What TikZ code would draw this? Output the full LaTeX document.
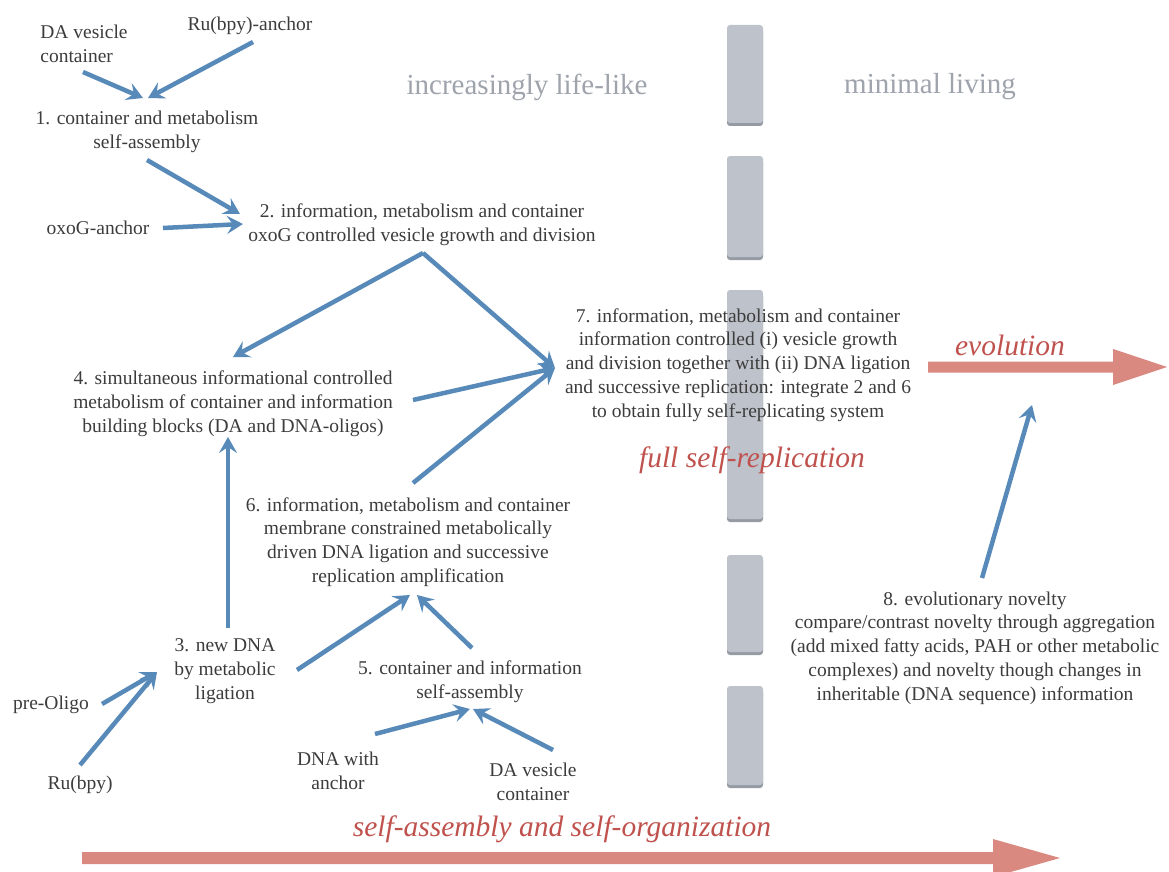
\documentclass[tikz,border=0pt]{standalone}
\usepackage{fontspec}
\setmainfont{LiberationSerif}[Extension=.ttf, UprightFont=*-Regular, ItalicFont=*-Italic, BoldFont=*-Bold, BoldItalicFont=*-BoldItalic]
\usetikzlibrary{arrows.meta}
\definecolor{txt}{RGB}{60,60,60}
\definecolor{bluearr}{RGB}{88,138,185}
\definecolor{redarr}{RGB}{217,137,128}
\definecolor{redtext}{RGB}{192,82,78}
\definecolor{graytitle}{RGB}{158,163,172}
\definecolor{barfill}{RGB}{190,194,202}
\definecolor{barshade}{RGB}{150,154,162}
\tikzset{
  lbl/.style={align=center, inner sep=0pt, text=txt, font=\fontsize{19.5}{23.8}\selectfont},
  titletxt/.style={inner sep=0pt, text=graytitle, font=\fontsize{29}{34}\selectfont},
  redtxt/.style={inner sep=0pt, text=redtext, font=\fontsize{29.5}{34}\selectfont\itshape},
  barrow/.style={draw=bluearr, line width=4.5pt, -{Stealth[length=16pt, width=18pt, inset=6pt]}},
  redshape/.style={fill=redarr},
  barseg/.style={fill=barfill, rounded corners=3pt},
  barshadow/.style={fill=barshade, rounded corners=3pt}
}
\begin{document}
\begin{tikzpicture}[x=1pt,y=-1pt]
\useasboundingbox (0,0) rectangle (1169,872);
\fill[white] (0,0) rectangle (1169,872);

% dashed gray divider
\foreach \a/\b in {25/126,156/260,290/522,555/655,686/788}{
  \fill[barshadow] (727,\a+3) rectangle (763,\b);
  \fill[barseg] (727,\a) rectangle (763,\b-3);
}

% red arrows
\coordinate (evS) at (928,367);
\coordinate (evE) at (1167,367);
\fill[redshape] (928,361.5) -- (1113,361.5) -- (1113,349) -- (evE) -- (1113,385) -- (1113,372.5) -- (928,372.5) -- cycle;
\coordinate (saS) at (82,858);
\coordinate (saE) at (1060,858);
\fill[redshape] (82,852) -- (993,852) -- (993,839) -- (saE) -- (993,877) -- (993,864) -- (82,864) -- cycle;

% texts
\node[lbl, align=left] (daves1) at (84,43.5) {DA vesicle\\container};
\node[lbl] (rua) at (250,26) {Ru(bpy)-anchor};
\node[lbl] (n1) at (147,131.5) {1. container and metabolism\\self-assembly};
\node[lbl] (oxo) at (98,228) {oxoG-anchor};
\node[lbl] (n2) at (422,225) {2. information, metabolism and container\\oxoG controlled vesicle growth and division};
\node[titletxt] (incr) at (527,87) {increasingly life-like};
\node[titletxt] (minl) at (930,87) {minimal living};
\node[lbl] (n7) at (738,365) {7. information, metabolism and container\\information controlled (i) vesicle growth\\and division together with (ii) DNA ligation\\and successive replication: integrate 2 and 6\\to obtain fully self-replicating system};
\node[redtxt] (evol) at (1010,345) {evolution};
\node[lbl] (n4) at (233,404) {4. simultaneous informational controlled\\metabolism of container and information\\building blocks (DA and DNA-oligos)};
\node[redtxt] (full) at (752,460) {full self-replication};
\node[lbl] (n6) at (408,542) {6. information, metabolism and container\\membrane constrained metabolically\\driven DNA ligation and successive\\replication amplification};
\node[lbl] (n3) at (225,671) {3. new DNA\\by metabolic\\ligation};
\node[lbl] (n5) at (470,682) {5. container and information\\self-assembly};
\node[lbl] (pre) at (51,705) {pre-Oligo};
\node[lbl] (rub) at (80,785) {Ru(bpy)};
\node[lbl] (dna) at (338,771) {DNA with\\anchor};
\node[lbl] (daves2) at (533,782) {DA vesicle\\container};
\node[lbl] (n8) at (975,648) {8. evolutionary novelty\\compare/contrast novelty through aggregation\\(add mixed fatty acids, PAH or other metabolic\\complexes) and novelty though changes in\\inheritable (DNA sequence) information};
\node[redtxt] (selfasm) at (562,829) {self-assembly and self-organization};

% blue connectors
\draw[barrow] ([shift={(-1,28.5)}]daves1.center) -- ([shift={(-4,-33.5)}]n1.center);
\draw[barrow] ([shift={(3,16)}]rua.center) -- ([shift={(1,-33.5)}]n1.center);
\draw[barrow] ([shift={(0,28.5)}]n1.center) -- ([shift={(-182,-11)}]n2.center);
\draw[barrow] ([shift={(65,0)}]oxo.center) -- ([shift={(-179,-1)}]n2.center);
\draw[barrow] ([shift={(1,28)}]n2.center) -- ([shift={(0,-47)}]n4.center);
\draw[barrow] ([shift={(1,28)}]n2.center) -- ([shift={(-183,3)}]n7.center);
\draw[barrow] ([shift={(180,-4)}]n4.center) -- ([shift={(-183,3)}]n7.center);
\draw[barrow] ([shift={(5,-59)}]n6.center) -- ([shift={(-183,3)}]n7.center);
\draw[barrow] ([shift={(3,-43)}]n3.center) -- ([shift={(-5,33)}]n4.center);
\draw[barrow] ([shift={(72,-1)}]n3.center) -- ([shift={(2,53)}]n6.center);
\draw[barrow] ([shift={(2,-34)}]n5.center) -- ([shift={(9,53)}]n6.center);
\draw[barrow] ([shift={(51,-1)}]pre.center) -- ([shift={(-68,1)}]n3.center);
\draw[barrow] ([shift={(0,-20)}]rub.center) -- ([shift={(-68,1)}]n3.center);
\draw[barrow] ([shift={(37,-37)}]dna.center) -- ([shift={(0,27)}]n5.center);
\draw[barrow] ([shift={(20,-32)}]daves2.center) -- ([shift={(3,27)}]n5.center);
\coordinate (evin) at (1032,405);
\draw[barrow] ([shift={(7,-70)}]n8.center) -- (evin);
\end{tikzpicture}
\end{document}
